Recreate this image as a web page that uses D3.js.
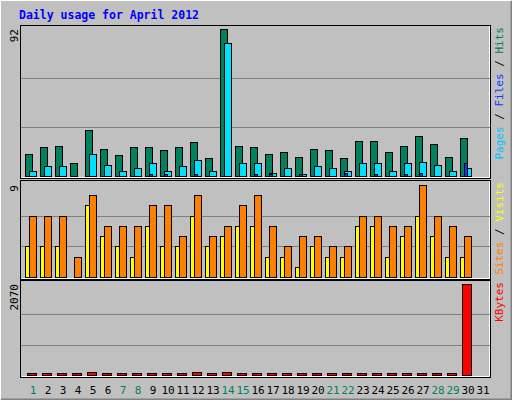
<!DOCTYPE html><html><head><meta charset="utf-8">
<script src="https://cdn.jsdelivr.net/npm/d3@7"></script>
<style>body{margin:0;background:#fff}svg{display:block}</style></head><body>
<script>
const days = d3.range(1,32);
const weekend = [1,7,8,14,15,21,22,28,29];
const hits  = [14,18,19,8,29,17,13,18,18,16,18,21,11,92,19,18,14,15,12,17,16,11,22,22,15,19,25,20,12,24,0];
const files = [3,6,6,0,14,7,3,5,8,3,6,10,3,83,8,8,2,5,1,6,5,3,8,8,3,8,9,7,3,5,0];
const pages = [0,0,0,0,0,0,0,0,1,1,0,1,0,0,0,1,1,0,1,0,0,2,0,1,0,1,2,0,0,8,0];
const sites = [3,3,3,0,7,4,3,2,5,3,3,6,3,4,5,5,2,2,1,3,2,2,5,5,2,4,6,4,2,2,0];
const visits= [6,6,6,2,8,5,5,5,7,7,4,8,4,5,7,8,5,3,4,4,3,3,6,6,5,5,9,6,5,4,0];
const kbytes= [8,25,25,8,70,25,8,25,25,8,25,70,8,70,25,25,8,25,8,25,25,8,25,25,8,25,25,25,8,2070,0];
const maxTicks = {hits:92, visits:9, kbytes:2070};

const W=512,H=400;
const svg=d3.select("body").append("svg").attr("width",W).attr("height",H);
svg.append("rect").attr("width",W).attr("height",H).attr("fill","#c0c0c0");
svg.append("path").attr("d","M0.5,399.5V0.5H511.5").attr("stroke","#fff").attr("fill","none");
svg.append("path").attr("d","M1,399.5H511.5V1").attr("stroke","#808080").attr("stroke-width",2).attr("fill","none");
svg.append("text").attr("x",19).attr("y",19).text("Daily usage for April 2012")
  .attr("font-family","DejaVu Sans Mono").attr("font-weight","bold").attr("font-size",11.5).attr("fill","#0000ff");

const x=d3.scaleBand().domain(days).range([25,490]).paddingInner(0).paddingOuter(0);
const mono="DejaVu Sans Mono";
function panel(y0,y1,base,top,max,series,labels){
  svg.append("rect").attr("x",20.5).attr("y",y0+0.5).attr("width",470).attr("height",y1-y0).attr("fill","#c0c0c0").attr("stroke","#000");
  svg.append("path").attr("d",`M21.5,${y1-0.5}H489.5V${y0+1}`).attr("stroke","#fff").attr("fill","none");
  const y=d3.scaleLinear().domain([0,max]).range([base,top]);
  [max/3,2*max/3].forEach(v=>svg.append("line").attr("x1",21).attr("x2",490).attr("y1",Math.round(y(v))+0.5).attr("y2",Math.round(y(v))+0.5).attr("stroke","#808080"));
  series.forEach(s=>{
    svg.append("g").selectAll("rect").data(s.data.map((v,i)=>[days[i],v])).join("rect")
      .filter(d=>d[1]>0)
      .attr("x",d=>Math.round(x(d[0]))+s.off+0.5).attr("width",s.w)
      .attr("y",d=>Math.min(base-2,Math.round(y(d[1])))+0.5).attr("height",d=>Math.max(2,base-Math.round(y(d[1]))))
      .attr("fill",s.color).attr("stroke","#000");
  });
  svg.append("text").attr("transform",`translate(18,${top}) rotate(-90)`).attr("text-anchor","end")
    .attr("font-family",mono).attr("font-size",11).text(String(max));
  const t=svg.append("text").attr("transform",`translate(503,${y0+2}) rotate(-90)`).attr("text-anchor","end")
    .attr("font-family",mono).attr("font-size",11);
  labels.forEach(l=>t.append("tspan").attr("fill",l[1]).text(l[0]));
}
panel(25,178,176,29,maxTicks.hits,[
  {data:hits,color:"#00805c",off:0,w:7},
  {data:files,color:"#00e0ff",off:4,w:7},
  {data:pages,color:"#0040ff",off:4,w:3}],
  [["Pages","#00c0ff"],[" / ","#000"],["Files","#0040ff"],[" / ","#000"],["Hits","#00805c"]]);
panel(180,279,277,185,maxTicks.visits,[
  {data:sites,color:"#ffff00",off:0,w:7},
  {data:visits,color:"#ff8000",off:4,w:7}],
  [["Sites","#ff8000"],[" / ","#000"],["Visits","#ffff00"]]);
panel(280,377,375,284,maxTicks.kbytes,[
  {data:kbytes,color:"#ff0000",off:2,w:9}],
  [["KBytes","#ff0000"]]);
svg.append("g").selectAll("text").data(days).join("text")
  .attr("x",d=>x(d)+8).attr("y",394).attr("text-anchor","middle")
  .attr("font-family",mono).attr("font-size",11)
  .attr("fill",d=>weekend.includes(d)?"#00805c":"#000").text(d=>d);
</script></body></html>
